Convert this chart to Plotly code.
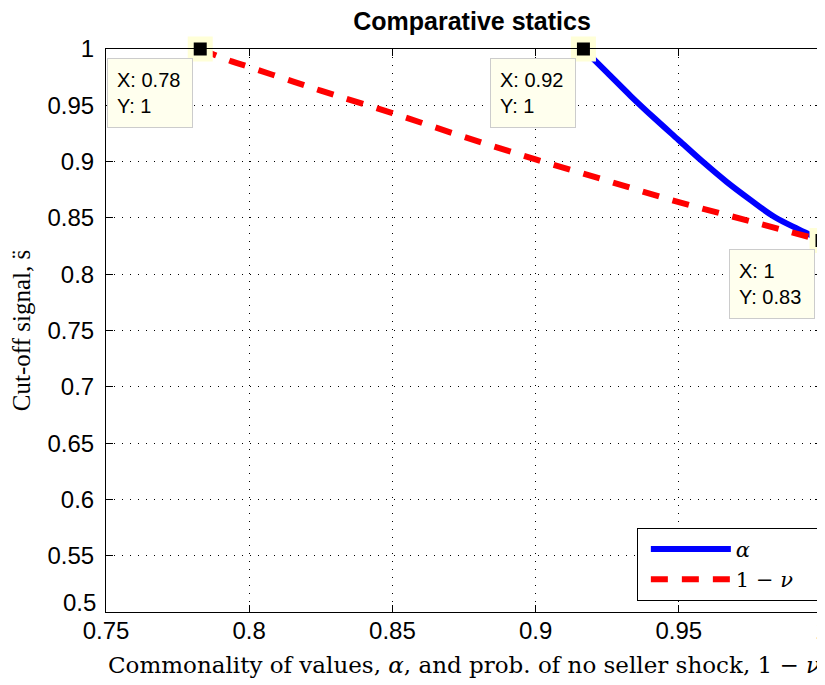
import plotly.graph_objects as go

# Data
alpha_x = [0.9167, 0.925, 0.9333, 0.9417, 0.95, 0.9583, 0.9667, 0.975, 0.9833, 0.9917, 1.0]
alpha_y = [1.000, 0.979, 0.958, 0.938, 0.919, 0.900, 0.882, 0.866, 0.851, 0.840, 0.830]

nu_x = [0.7829, 0.7939, 0.80, 0.8154, 0.825, 0.85, 0.875, 0.90, 0.925, 0.95, 0.975, 1.0]
nu_y = [1.000, 0.989, 0.984, 0.971, 0.963, 0.943, 0.922, 0.902, 0.883, 0.864, 0.847, 0.830]

tip_x = [0.7829, 0.9167, 1.0]
tip_y = [1.0, 1.0, 0.83]
tip_labels = ["X: 0.78<br>Y: 1", "X: 0.92<br>Y: 1", "X: 1<br>Y: 0.83"]

x_ticks = [0.75, 0.8, 0.85, 0.9, 0.95, 1.0]
x_ticktext = ["0.75", "0.8", "0.85", "0.9", "0.95", "1"]
y_ticks = [0.5, 0.55, 0.6, 0.65, 0.7, 0.75, 0.8, 0.85, 0.9, 0.95, 1.0]
y_ticktext = ["0.5", "0.55", "0.6", "0.65", "0.7", "0.75", "0.8", "0.85", "0.9", "0.95", "1"]

x_title = "Commonality of values, <i>α</i>, and prob. of no seller shock, 1 − <i>ν</i>"
y_title = "Cut-off signal, s\u0308"

SANS = "Liberation Sans, Arial, sans-serif"
SERIF = "Liberation Serif, Times New Roman, serif"
SERIF_WIDE = "DejaVu Serif, serif"
PAD = "&nbsp;" * 3

fig = go.Figure()
fig.add_trace(go.Scatter(
    x=alpha_x, y=alpha_y, mode="lines", name="<i>α</i>" + PAD,
    line=dict(color="#0000FF", width=6, shape="spline", smoothing=1.0),
    cliponaxis=False))
fig.add_trace(go.Scatter(
    x=nu_x, y=nu_y, mode="lines", name="1 − <i>ν</i>" + PAD,
    line=dict(color="#FF0000", width=6, dash="17px,14px", shape="spline", smoothing=1.0),
    cliponaxis=False))
fig.add_trace(go.Scatter(
    x=tip_x, y=tip_y, mode="markers", showlegend=False,
    marker=dict(symbol="square", size=19, color="black",
                line=dict(color="#FFFFD8", width=6)),
    cliponaxis=False))

for tx, ty, tl in zip(tip_x, tip_y, tip_labels):
    fig.add_annotation(
        x=tx, y=ty, xref="x", yref="y", text=tl, showarrow=False,
        xanchor="right", yanchor="top", xshift=-7, yshift=-9,
        align="left", valign="middle", width=66, height=50,
        bgcolor="#FFFFEE", bordercolor="#CCCCCC", borderwidth=1, borderpad=9,
        font=dict(family=SANS, size=20, color="black"))

# lowest y tick label sits raised above the axis corner, as in the reference
y_ticktext_shown = [""] + y_ticktext[1:]
fig.add_annotation(
    x=0, y=y_ticks[0], xref="paper", yref="y", text=y_ticktext[0], showarrow=False,
    xanchor="right", yanchor="middle", xshift=-8, yshift=10,
    font=dict(family=SANS, size=24, color="black"))

# x-axis title
fig.add_annotation(
    x=0.5, y=0, xref="paper", yref="paper", text=x_title, showarrow=False,
    xanchor="center", yanchor="middle", yshift=-53,
    font=dict(family=SERIF_WIDE, size=23, color="black"))

axis_common = dict(
    showline=True, linecolor="black", linewidth=1, mirror="ticks",
    ticks="inside", ticklen=7, tickcolor="black", tickwidth=1,
    showgrid=True, gridcolor="black", gridwidth=1, griddash="1px,7px",
    zeroline=False, automargin=False,
    tickfont=dict(family=SANS, size=24, color="black"),
)

# page body adds an 8px offset, so margins are set 8px smaller on top/left
fig.update_layout(
    width=825, height=685,
    margin=dict(l=98, r=11, t=41, b=81, autoexpand=False),
    paper_bgcolor="white", plot_bgcolor="white",
    title=dict(text="<b>Comparative statics</b>", x=0.5625, xanchor="center",
               y=0.981, yanchor="middle", automargin=False,
               font=dict(family=SANS, size=25, color="black")),
    xaxis=dict(range=[0.75, 1.0], tickvals=x_ticks, ticktext=x_ticktext,
               ticklabelstandoff=-3, **axis_common),
    yaxis=dict(range=[0.5, 1.0], tickvals=y_ticks, ticktext=y_ticktext_shown,
               ticklabelstandoff=6,
               title=dict(text=y_title,
                          font=dict(family=SERIF, size=25, color="black"), standoff=14),
               **axis_common),
    legend=dict(x=0.997, y=0.02, xanchor="right", yanchor="bottom",
                bgcolor="white", bordercolor="black", borderwidth=1,
                font=dict(family=SERIF_WIDE, size=21, color="black"),
                itemwidth=80, tracegroupgap=0, indentation=8),
    showlegend=True,
)

fig.write_html("out.html")
